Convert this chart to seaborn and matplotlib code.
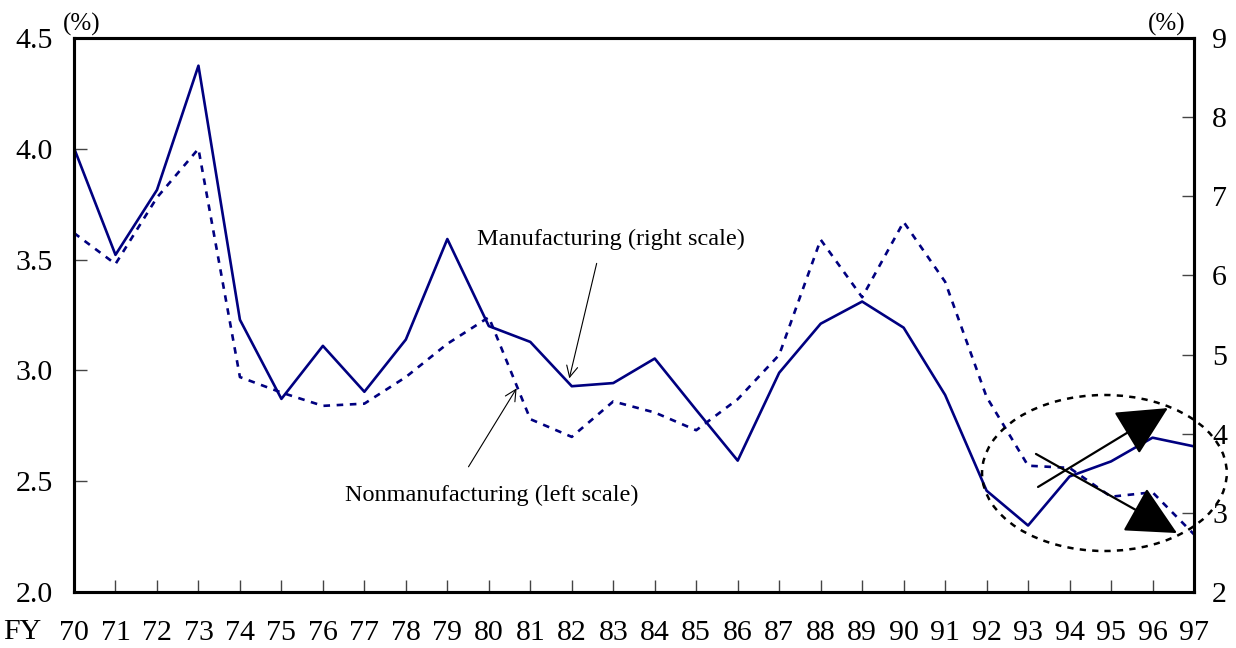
import matplotlib
matplotlib.use('Agg')
import matplotlib.pyplot as plt
from matplotlib.patches import Ellipse, FancyArrowPatch
import seaborn as sns
import pandas as pd

years = list(range(70, 98))
year_labels = [str(y) for y in years]

# manufacturing, right scale (%)
manufacturing = [7.61, 6.26, 7.08, 8.65, 5.44, 4.44, 5.11, 4.53, 5.19, 6.46,
                 5.36, 5.16, 4.60, 4.64, 4.95, 4.30, 3.66, 4.77, 5.39, 5.67,
                 5.34, 4.49, 3.28, 2.84, 3.46, 3.65, 3.95, 3.84]

# nonmanufacturing, left scale (%)
nonmanufacturing = [3.62, 3.48, 3.78, 4.00, 2.97, 2.90, 2.84, 2.85, 2.97, 3.12,
                    3.24, 2.78, 2.70, 2.86, 2.81, 2.73, 2.87, 3.07, 3.59, 3.33,
                    3.67, 3.40, 2.88, 2.57, 2.56, 2.43, 2.45, 2.26]

df = pd.DataFrame({'year': years, 'mfg': manufacturing, 'nonmfg': nonmanufacturing})

sns.set_theme(style='white')
plt.rcParams['font.family'] = ['Liberation Serif', 'DejaVu Serif']
plt.rcParams['text.color'] = 'black'

navy = '#000080'

fig = plt.figure(figsize=(12.36, 6.48), dpi=100)
ax = fig.add_axes([74 / 1236, 1 - 592 / 648, 1120 / 1236, 554 / 648])
ax2 = ax.twinx()

sns.lineplot(data=df, x='year', y='nonmfg', ax=ax, color=navy, lw=1.9,
             linestyle=(0, (2.5, 2.5)))
sns.lineplot(data=df, x='year', y='mfg', ax=ax2, color=navy, lw=1.9)

ax.set_xlim(70, 97)
ax.set_ylim(2.0, 4.5)
ax2.set_ylim(2, 9)
ax.set_xticks(years)
ax.set_xticklabels(year_labels)
ax.set_yticks([2.0, 2.5, 3.0, 3.5, 4.0, 4.5])
ax.set_yticklabels(['2.0', '2.5', '3.0', '3.5', '4.0', '4.5'])
ax2.set_yticks(range(2, 10))
ax.set_xlabel('')
ax.set_ylabel('')
ax2.set_ylabel('')

ax.tick_params(axis='x', direction='in', length=9, width=1, pad=20,
               labelsize=21.5, color='#444444', labelcolor='black', bottom=True)
ax.tick_params(axis='y', direction='in', length=9, width=1, pad=15,
               labelsize=21.5, color='#444444', labelcolor='black', left=True)
ax2.tick_params(axis='y', direction='in', length=9, width=1, pad=13,
                labelsize=21.5, color='#444444', labelcolor='black', right=True)

for a in (ax, ax2):
    for s in a.spines.values():
        s.set_color('black')
        s.set_linewidth(2.2)

ax.text(-0.046, -0.073, 'FY', transform=ax.transAxes, fontsize=21.5,
        ha='center', va='center')
ax.text(0.007, 1.025, '(%)', transform=ax.transAxes, fontsize=18,
        ha='center', va='center')
ax.text(0.976, 1.025, '(%)', transform=ax.transAxes, fontsize=18,
        ha='center', va='center')

# labels with thin arrows
ax.text(82.95, 3.593, 'Manufacturing (right scale)', fontsize=17.5,
        ha='center', va='center', zorder=5)
ax.annotate('', xy=(81.94, 2.964), xytext=(82.60, 3.483),
            arrowprops=dict(arrowstyle='->', color='black', lw=0.8,
                            shrinkA=0, shrinkB=0, mutation_scale=20))
ax.text(80.08, 2.438, 'Nonmanufacturing (left scale)', fontsize=17.5,
        ha='center', va='center', zorder=5)
ax.annotate('', xy=(80.67, 2.919), xytext=(79.51, 2.565),
            arrowprops=dict(arrowstyle='->', color='black', lw=0.8,
                            shrinkA=0, shrinkB=0, mutation_scale=20))

# dashed ellipse and bold arrows
ell = Ellipse((94.84, 2.537), 5.9, 0.704, fill=False, ls=(0, (2.5, 2.5)),
              lw=1.8, edgecolor='black', clip_on=False, zorder=6)
ax2.add_patch(ell)
ell.set_transform(ax.transData)

for (x0, y0), (x1, y1) in [((93.24, 2.474), (96.37, 2.830)),
                           ((93.19, 2.623), (96.59, 2.266))]:
    arr = FancyArrowPatch((x0, y0), (x1, y1), transform=ax.transData,
                          arrowstyle='-|>,head_length=1.45,head_width=0.72',
                          mutation_scale=22, lw=1.6, color='black',
                          shrinkA=0, shrinkB=0, clip_on=False, zorder=7)
    ax2.add_patch(arr)

fig.savefig('out.png', dpi=100)
